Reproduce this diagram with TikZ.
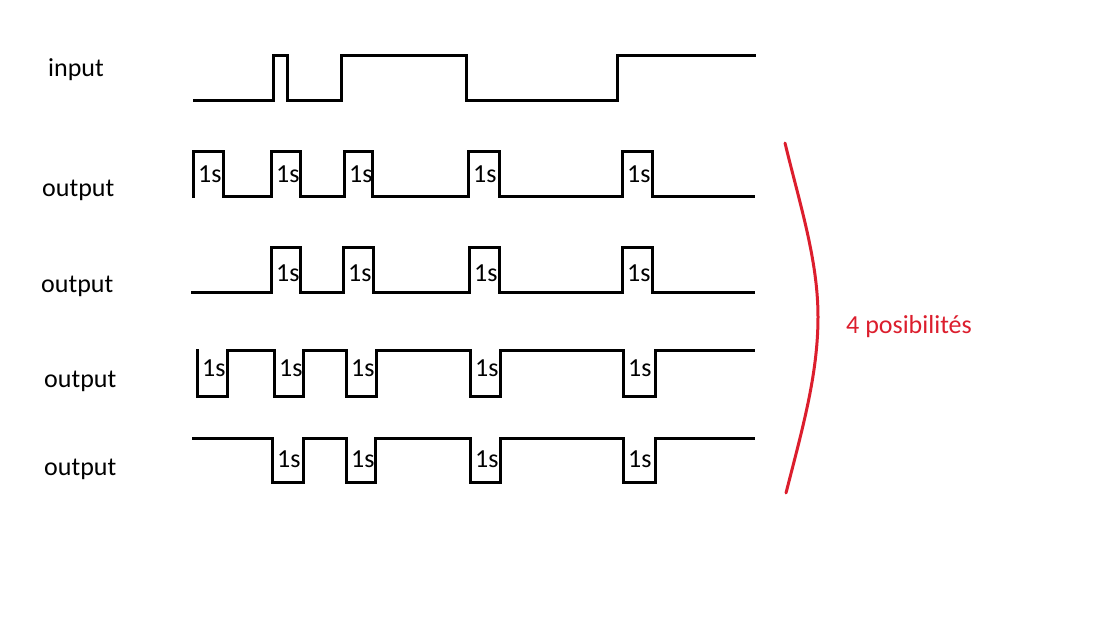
\documentclass[tikz,border=0pt]{standalone}
\usepackage{fontspec}
\setmainfont{Carlito}
\definecolor{bracered}{RGB}{220,30,45}
\begin{document}
\begin{tikzpicture}[x=1pt,y=-1pt,
  wave/.style={line width=3pt,line join=miter,line cap=rect,black},
  lbl/.style={anchor=base west,inner sep=0pt,font=\fontsize{26}{30}\selectfont},
  sec/.style={anchor=base west,inner sep=0pt,font=\fontsize{26}{30}\selectfont},
  brace/.style={line width=3pt,bracered,line cap=round}]
\useasboundingbox[fill=white] (0,0) rectangle (1098,644);
% labels
\node[lbl] (lin) at (48,77) {input};
\node[lbl] (lo1) at (42,197) {output};
\node[lbl] (lo2) at (41,293) {output};
\node[lbl] (lo3) at (44,388) {output};
\node[lbl] (lo4) at (44,475) {output};
% input
\draw[wave] (194,101) -- (273,101) -- (273,56) -- (287,56) -- (287,101) -- (341,101) -- (341,56) -- (466,56) -- (466,101) -- (617,101) -- (617,56) -- (754,56);
% output 1
\draw[wave] (193,197) -- (193,152) -- (223,152) -- (223,197) -- (271,197) -- (271,152) -- (300,152) -- (300,197) -- (344,197) -- (344,152) -- (372,152) -- (372,197) -- (468,197) -- (468,152) -- (499,152) -- (499,197) -- (622,197) -- (622,152) -- (652,152) -- (652,197) -- (753,197);
% output 2
\draw[wave] (192,293) -- (271,293) -- (271,248) -- (300,248) -- (300,293) -- (343,293) -- (343,248) -- (373,248) -- (373,293) -- (469,293) -- (469,248) -- (499,248) -- (499,293) -- (622,293) -- (622,248) -- (652,248) -- (652,293) -- (753,293);
% output 3
\draw[wave] (197,351) -- (197,396) -- (227,396) -- (227,351) -- (274,351) -- (274,396) -- (303,396) -- (303,351) -- (346,351) -- (346,396) -- (376,396) -- (376,351) -- (470,351) -- (470,396) -- (500,396) -- (500,351) -- (623,351) -- (623,396) -- (655,396) -- (655,351) -- (753,351);
% output 4
\draw[wave] (193,438) -- (272,438) -- (272,482) -- (303,482) -- (303,438) -- (346,438) -- (346,482) -- (375,482) -- (375,438) -- (470,438) -- (470,482) -- (500,482) -- (500,438) -- (623,438) -- (623,482) -- (655,482) -- (655,438) -- (753,438);
% 1s labels
\foreach \x [count=\i] in {198,276,349,473,627} \node[sec] (sa\i) at (\x,183) {1s};
\foreach \x [count=\i] in {276,348,474,627} \node[sec] (sb\i) at (\x,282) {1s};
\foreach \x [count=\i] in {202,279,351,475,628} \node[sec] (sc\i) at (\x,377) {1s};
\foreach \x [count=\i] in {277,351,475,628} \node[sec] (sd\i) at (\x,467) {1s};
% brace
\coordinate (btop) at (785,143);
\coordinate (bmid) at (818,317);
\coordinate (bbot) at (786,493);
\draw[brace] (btop) .. controls (800,205) and (818,260) .. (bmid) .. controls (818,375) and (802,430) .. (bbot);
\node[lbl,text=bracered] (poss) at (846,334) {4 posibilités};
\end{tikzpicture}
\end{document}
